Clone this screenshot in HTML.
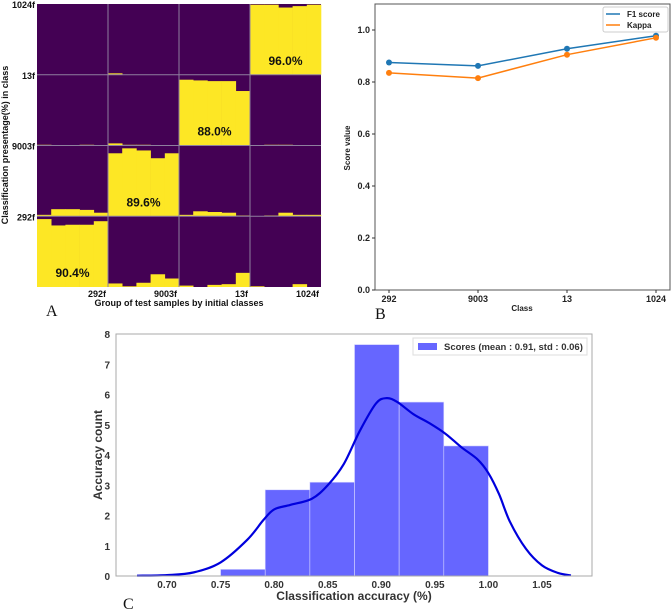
<!DOCTYPE html>
<html><head><meta charset="utf-8">
<style>
body{margin:0;background:#fff;width:671px;height:613px;overflow:hidden;font-family:"Liberation Sans",sans-serif;}
svg{position:absolute;left:0;top:0;}
</style></head>
<body>
<svg id="s" width="671" height="613" xmlns="http://www.w3.org/2000/svg" font-family="Liberation Sans, sans-serif">
<g id="A"></g>
<g id="B"></g>
<g id="C"></g>
</svg>
<script>
// ---------- Panel A data ----------
const aClasses = ["292f","9003f","13f","1024f"];
const aCol0 = [[0.96,0.87,0.88,0.88,0.93],[0.02,0.10,0.10,0.09,0.05],[0.01,0,0,0.01,0],[0,0,0,0,0]];
const aCol1 = [[0.05,0.01,0.06,0.18,0.12],[0.89,0.96,0.93,0.82,0.89],[0.03,0.01,0.01,0,0],[0.02,0,0,0,0]];
const aCol2 = [[0.02,0,0.03,0.04,0.20],[0.02,0.07,0.06,0.05,0.01],[0.93,0.92,0.91,0.91,0.77],[0,0,0,0,0]];
const aCol3 = [[0.01,0,0,0.04,0],[0,0.01,0.05,0.02,0.02],[0,0.01,0.01,0,0],[0.99,0.99,0.95,0.97,0.99]];
const aCells = [aCol0,aCol1,aCol2,aCol3];
const aPct = ["90.4%","89.6%","88.0%","96.0%"];

// ---------- Panel B data ----------
const bClasses = ["292","9003","13","1024"];
const bF1 = [0.875,0.862,0.928,0.978];
const bKappa = [0.835,0.815,0.905,0.970];
const bTicks = [0,0.2,0.4,0.6,0.8,1.0];

// ---------- Panel C data ----------
const cBinStart = 0.75, cBinW = 0.04167;
const cCounts = [0.22,2.85,3.1,7.65,5.75,4.3];
const cKdeX = [0.672,0.70,0.725,0.75,0.775,0.79,0.80,0.815,0.835,0.85,0.865,0.88,0.895,0.905,0.915,0.93,0.945,0.96,0.975,0.99,1.0,1.01,1.02,1.035,1.05,1.065,1.077];
const cKdeY = [0.01,0.03,0.12,0.45,1.2,1.85,2.2,2.35,2.55,3.0,3.7,4.8,5.7,5.88,5.75,5.35,5.05,4.7,4.25,3.85,3.4,2.7,1.8,0.9,0.35,0.1,0.02];
const cXTicks = [0.70,0.75,0.80,0.85,0.90,0.95,1.00,1.05];
const cYTicks = [0,1,2,3,4,5,6,7,8];

const NS="http://www.w3.org/2000/svg";
function mk(parent,tag,attrs,text){const e=document.createElementNS(NS,tag);for(const k in attrs)e.setAttribute(k,attrs[k]);if(text!==undefined)e.textContent=text;parent.appendChild(e);return e;}

// ===== Panel A =====
(function(){
const g=document.getElementById('A');
const x0=37,x1=321,y0=4,y1=287,cw=(x1-x0)/4,ch=(y1-y0)/4,bw=cw/5;
let bg=mk(g,'rect',{x:x0,y:y0,width:x1-x0,height:y1-y0,fill:'#440154'});


for(let c=0;c<4;c++)for(let r=0;r<4;r++){
  const cellBottom=y1-r*ch;
  aCells[c][r].forEach((v,k)=>{
    if(v<=0)return;
    let b=mk(g,'rect',{x:x0+c*cw+k*bw,y:cellBottom-v*ch,width:bw+0.3,height:v*ch,fill:'#fde725'});
    
    
  });
}
for(let i=1;i<4;i++){
  mk(g,'line',{x1:x0+i*cw,x2:x0+i*cw,y1:y0,y2:y1,stroke:'#8e7f9e','stroke-width':1});
  mk(g,'line',{x1:x0,x2:x1,y1:y0+i*ch,y2:y0+i*ch,stroke:'#8e7f9e','stroke-width':1});
}
aPct.forEach((t,i)=>{
  let e=mk(g,'text',{x:x0+i*cw+cw/2,y:y1-i*ch-10,'font-size':12,'font-weight':'bold','text-anchor':'middle',fill:'#111'},t);
  
  
});
aClasses.forEach((t,i)=>{
  let e=mk(g,'text',{x:35,y:y1-(i+1)*ch+4,'font-size':9,'font-weight':'bold','text-anchor':'end',fill:'#111'},t);
  
  
  let f=mk(g,'text',{x:x0+(i+1)*cw-2,y:297,'font-size':9,'font-weight':'bold','text-anchor':'end',fill:'#111'},t);
  
  
});
let xl=mk(g,'text',{x:179,y:306,'font-size':9,'font-weight':'bold','text-anchor':'middle',fill:'#111'},'Group of test samples by initial classes');


let yl=mk(g,'text',{x:0,y:0,'font-size':9,'font-weight':'bold','text-anchor':'middle',fill:'#111',transform:'translate(8,145) rotate(-90)'},'Classification presentage(%) in class');


let pl=mk(g,'text',{x:46,y:316,'font-size':16,'font-family':'Liberation Serif, serif',fill:'#111'},'A');


})();

// ===== Panel B =====
(function(){
const g=document.getElementById('B');
const X0=375,X1=670,Y0=4,Y1=290;
const ys=v=>Y1-v*260;
const xs=i=>389+i*89;
let fr=mk(g,'rect',{x:X0,y:Y0,width:X1-X0,height:Y1-Y0,fill:'none',stroke:'#555','stroke-width':1});


bTicks.forEach(t=>{
  mk(g,'line',{x1:X0-3,x2:X0,y1:ys(t),y2:ys(t),stroke:'#333'});
  let e=mk(g,'text',{x:X0-5,y:ys(t)+3,'font-size':9,'font-weight':'bold','text-anchor':'end',fill:'#222'},t.toFixed(1));
  
  
});
bClasses.forEach((c,i)=>{
  mk(g,'line',{x1:xs(i),x2:xs(i),y1:Y1,y2:Y1+3,stroke:'#333'});
  let e=mk(g,'text',{x:xs(i),y:Y1+12,'font-size':9,'font-weight':'bold','text-anchor':'middle',fill:'#222'},c);
  
  
});
[[bF1,'#1f77b4','f1'],[bKappa,'#ff7f0e','kappa']].forEach(([d,col,n])=>{
  let p=mk(g,'polyline',{points:d.map((v,i)=>xs(i)+','+ys(v)).join(' '),fill:'none',stroke:col,'stroke-width':1.5});
  
  
  d.forEach((v,i)=>{
    let c=mk(g,'circle',{cx:xs(i),cy:ys(v),r:3,fill:col});
    
    
  });
});
let lg=mk(g,'g',{});


mk(lg,'rect',{x:603,y:7,width:65,height:25,fill:'#fff',stroke:'#ccc',rx:2});
mk(lg,'line',{x1:606,x2:620,y1:14,y2:14,stroke:'#1f77b4','stroke-width':1.5});
mk(lg,'text',{x:627,y:17,'font-size':8,'font-weight':'bold',fill:'#222'},'F1 score');
mk(lg,'line',{x1:606,x2:620,y1:25,y2:25,stroke:'#ff7f0e','stroke-width':1.5});
mk(lg,'text',{x:627,y:28,'font-size':8,'font-weight':'bold',fill:'#222'},'Kappa');
let xl=mk(g,'text',{x:522,y:311,'font-size':8,'font-weight':'bold','text-anchor':'middle',fill:'#222'},'Class');


let yl=mk(g,'text',{x:0,y:0,'font-size':8,'font-weight':'bold','text-anchor':'middle',fill:'#222',transform:'translate(350,148) rotate(-90)'},'Score value');


let pl=mk(g,'text',{x:375,y:319,'font-size':16,'font-family':'Liberation Serif, serif',fill:'#111'},'B');


})();

// ===== Panel C =====
(function(){
const g=document.getElementById('C');
const X0=116,X1=592,Y0=334,Y1=576;
const xs=v=>167+(v-0.70)*1071.4;
const ys=v=>Y1-v*30.25;
cCounts.forEach((v,i)=>{
  const a=cBinStart+i*cBinW;
  let r=mk(g,'rect',{x:xs(a),y:ys(v),width:xs(a+cBinW)-xs(a),height:Y1-ys(v),fill:'#6666ff',stroke:'#d8d8ff','stroke-width':0.6});
  
  
});
const P=cKdeX.map((x,i)=>[xs(x),ys(cKdeY[i])]);
let d='M'+P[0][0]+','+P[0][1];
for(let i=0;i<P.length-1;i++){
  const p0=P[Math.max(0,i-1)],p1=P[i],p2=P[i+1],p3=P[Math.min(P.length-1,i+2)];
  const c1x=p1[0]+(p2[0]-p0[0])/6,c1y=p1[1]+(p2[1]-p0[1])/6;
  const c2x=p2[0]-(p3[0]-p1[0])/6,c2y=p2[1]-(p3[1]-p1[1])/6;
  d+=' C'+c1x+','+c1y+' '+c2x+','+c2y+' '+p2[0]+','+p2[1];
}
let k=mk(g,'path',{d:d,fill:'none',stroke:'#0000dd','stroke-width':2.2,'stroke-linejoin':'round'});


let fr=mk(g,'rect',{x:X0,y:Y0,width:X1-X0,height:Y1-Y0,fill:'none',stroke:'#aaa','stroke-width':1});


cYTicks.forEach(t=>{
  let e=mk(g,'text',{x:X0-6,y:ys(t)+4,'font-size':10,'font-weight':'bold','text-anchor':'end',fill:'#333'},String(t));
  
  
});
cXTicks.forEach(t=>{
  let e=mk(g,'text',{x:xs(t),y:588,'font-size':10,'font-weight':'bold','text-anchor':'middle',fill:'#333'},t.toFixed(2));
  
  
});
let lg=mk(g,'g',{});


mk(lg,'rect',{x:413,y:338,width:174,height:17,fill:'#fff',stroke:'#ddd'});
mk(lg,'rect',{x:418,y:343,width:19,height:7,fill:'#6666ff'});
mk(lg,'text',{x:444,y:350,'font-size':9.5,'font-weight':'bold',fill:'#333'},'Scores (mean : 0.91, std : 0.06)');
let xl=mk(g,'text',{x:354,y:600,'font-size':12,'font-weight':'bold','text-anchor':'middle',fill:'#333'},'Classification accuracy (%)');


let yl=mk(g,'text',{x:0,y:0,'font-size':12,'font-weight':'bold','text-anchor':'middle',fill:'#333',transform:'translate(102,455) rotate(-90)'},'Accuracy count');


let pl=mk(g,'text',{x:123,y:609,'font-size':16,'font-family':'Liberation Serif, serif',fill:'#111'},'C');


})();
</script>
</body></html>
